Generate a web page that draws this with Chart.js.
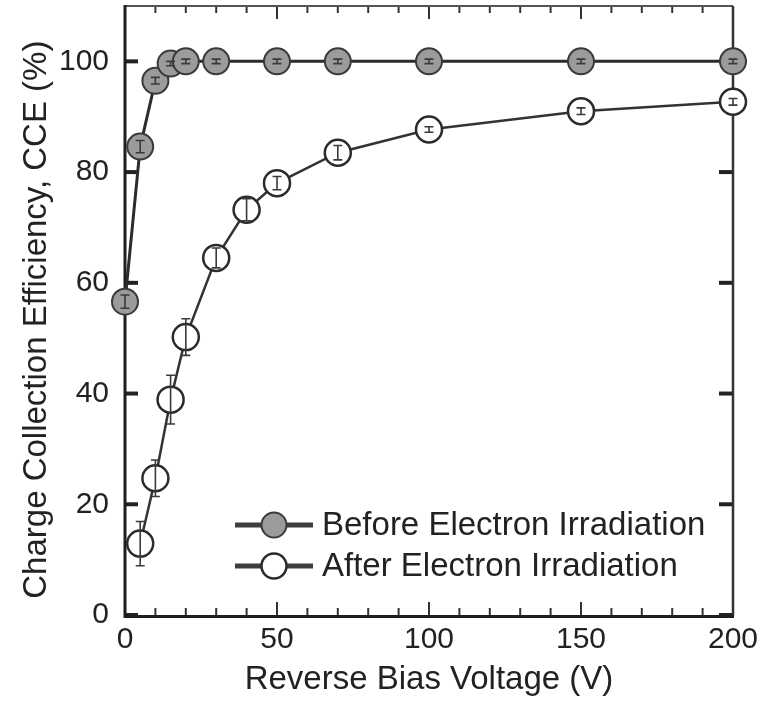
<!DOCTYPE html>
<html><head><meta charset="utf-8">
<script src="https://cdn.jsdelivr.net/npm/chart.js@4/dist/chart.umd.min.js"></script>
<style>html,body{margin:0;padding:0;background:#fff;} #wrap{width:771px;height:701px;position:relative;}</style>
</head><body><div id="wrap"><canvas id="c" width="771" height="701"></canvas></div>
<script>
const voltageBefore = [0, 5, 10, 15, 20, 30, 50, 70, 100, 150, 200];
const cceBefore = [56.6, 84.6, 96.5, 99.6, 100, 100, 100, 100, 100, 100, 100];
const errBefore = [1.2, 1.1, 0.6, 0.4, 0.4, 0.4, 0.4, 0.4, 0.4, 0.4, 0.4];
const voltageAfter = [5, 10, 15, 20, 30, 40, 50, 70, 100, 150, 200];
const cceAfter = [12.9, 24.7, 38.9, 50.2, 64.5, 73.2, 78.0, 83.5, 87.7, 91.0, 92.7];
const errAfter = [4.0, 3.3, 4.4, 3.3, 1.8, 2.0, 1.2, 1.3, 0.5, 0.6, 0.6];
const xTicks = [0, 50, 100, 150, 200];
const xMinorTicks = [10, 20, 30, 40, 60, 70, 80, 90, 110, 120, 130, 140, 160, 170, 180, 190];
const yTicks = [0, 20, 40, 60, 80, 100];
const seriesNames = ['Before Electron Irradiation', 'After Electron Irradiation'];
const xTitle = 'Reverse Bias Voltage (V)';
const yTitle = 'Charge Collection Efficiency, CCE (%)';

const FONT = "'Liberation Sans', Arial, Helvetica, sans-serif";
const TEXT = '#222';
const seriesStyle = [
  {line: '#2b2b2b', lw: 3, fill: '#9b9b9b', edge: '#3a3a3a', ew: 2},
  {line: '#333333', lw: 2.5, fill: '#ffffff', edge: '#2b2b2b', ew: 2.5}
];
const errs = [errBefore, errAfter];

const framePlugin = {
  id: 'frame',
  beforeDatasetsDraw(chart) {
    const {ctx, chartArea: a, scales: {x, y}} = chart;
    ctx.save();
    ctx.lineCap = 'butt';
    ctx.strokeStyle = '#222';
    ctx.lineWidth = 4;
    yTicks.forEach(v => {
      const py = y.getPixelForValue(v);
      ctx.beginPath(); ctx.moveTo(a.left, py); ctx.lineTo(a.left + 13, py); ctx.stroke();
      ctx.beginPath(); ctx.moveTo(a.right, py); ctx.lineTo(a.right - 14, py); ctx.stroke();
    });
    ctx.lineWidth = 2;
    ctx.strokeStyle = '#333';
    xTicks.forEach(v => {
      const px = x.getPixelForValue(v);
      ctx.beginPath(); ctx.moveTo(px, a.bottom); ctx.lineTo(px, a.bottom - 13); ctx.stroke();
      ctx.beginPath(); ctx.moveTo(px, a.top); ctx.lineTo(px, a.top + 13); ctx.stroke();
    });
    xMinorTicks.forEach(v => {
      const px = x.getPixelForValue(v);
      ctx.beginPath(); ctx.moveTo(px, a.bottom); ctx.lineTo(px, a.bottom - 7); ctx.stroke();
      ctx.beginPath(); ctx.moveTo(px, a.top); ctx.lineTo(px, a.top + 7); ctx.stroke();
    });
    ctx.strokeStyle = '#555'; ctx.lineWidth = 2;
    ctx.beginPath(); ctx.moveTo(a.left, a.top); ctx.lineTo(a.right, a.top); ctx.stroke();
    ctx.strokeStyle = '#333'; ctx.lineWidth = 2.5;
    ctx.beginPath(); ctx.moveTo(a.right, a.top); ctx.lineTo(a.right, a.bottom); ctx.stroke();
    ctx.strokeStyle = '#1e1e1e'; ctx.lineWidth = 3;
    ctx.beginPath(); ctx.moveTo(a.left, a.top - 1); ctx.lineTo(a.left, a.bottom + 1.5); ctx.lineTo(a.right + 1, a.bottom + 1.5); ctx.stroke();
    ctx.restore();
  },
  afterDatasetsDraw(chart) {
    const {ctx, scales: {x, y}} = chart;
    ctx.save();
    ctx.strokeStyle = '#3a3a3a';
    ctx.lineWidth = 1.6;
    chart.data.datasets.forEach((ds, i) => {
      ds.data.forEach((p, j) => {
        const e = errs[i][j];
        const px = x.getPixelForValue(p.x);
        const y1 = y.getPixelForValue(p.y + e);
        const y2 = y.getPixelForValue(p.y - e);
        const cw = 4.5;
        ctx.beginPath();
        ctx.moveTo(px, y1); ctx.lineTo(px, y2);
        ctx.moveTo(px - cw, y1); ctx.lineTo(px + cw, y1);
        ctx.moveTo(px - cw, y2); ctx.lineTo(px + cw, y2);
        ctx.stroke();
      });
    });
    ctx.restore();
  },
  afterDraw(chart) {
    const {ctx} = chart;
    ctx.save();
    const rows = [525, 566];
    seriesNames.forEach((name, i) => {
      const s = seriesStyle[i];
      const cy = rows[i];
      ctx.strokeStyle = '#3d3d3d';
      ctx.lineWidth = 5;
      ctx.beginPath(); ctx.moveTo(235, cy); ctx.lineTo(313, cy); ctx.stroke();
      ctx.beginPath(); ctx.arc(274, cy, 12.5, 0, Math.PI * 2);
      ctx.fillStyle = s.fill; ctx.fill();
      ctx.lineWidth = s.ew; ctx.strokeStyle = s.edge; ctx.stroke();
      ctx.fillStyle = TEXT;
      ctx.font = '33px ' + FONT;
      ctx.textBaseline = 'middle';
      ctx.textAlign = 'left';
      ctx.fillText(name, 322, cy + 1);
    });
    ctx.restore();
  }
};

const datasets = [
  {
    label: seriesNames[0],
    data: voltageBefore.map((v, i) => ({x: v, y: cceBefore[i]})),
    borderColor: seriesStyle[0].line, borderWidth: seriesStyle[0].lw,
    pointRadius: 13, pointBackgroundColor: seriesStyle[0].fill,
    pointBorderColor: seriesStyle[0].edge, pointBorderWidth: seriesStyle[0].ew,
    showLine: true, tension: 0, clip: false, order: 1
  },
  {
    label: seriesNames[1],
    data: voltageAfter.map((v, i) => ({x: v, y: cceAfter[i]})),
    borderColor: seriesStyle[1].line, borderWidth: seriesStyle[1].lw,
    pointRadius: 13, pointBackgroundColor: seriesStyle[1].fill,
    pointBorderColor: seriesStyle[1].edge, pointBorderWidth: seriesStyle[1].ew,
    showLine: true, tension: 0, clip: false, order: 2
  }
];

new Chart(document.getElementById('c'), {
  type: 'scatter',
  data: {datasets},
  plugins: [framePlugin],
  options: {
    responsive: false,
    animation: false,
    devicePixelRatio: 1,
    layout: {autoPadding: false, padding: {top: 6, right: 38, left: 0, bottom: 0}},
    plugins: {legend: {display: false}, tooltip: {enabled: false}},
    scales: {
      x: {
        type: 'linear', min: 0, max: 200,
        afterBuildTicks: s => { s.ticks = xTicks.map(v => ({value: v})); },
        afterFit: s => { s.height = 86; s.paddingLeft = 0; s.paddingRight = 0; s.paddingTop = 0; s.paddingBottom = 0; },
        grid: {display: false, drawTicks: false},
        border: {display: false},
        ticks: {color: TEXT, font: {family: FONT, size: 30}, padding: 7, maxRotation: 0, autoSkip: false},
        title: {display: true, text: xTitle, color: TEXT, font: {family: FONT, size: 33}, padding: {top: 0, bottom: 1}}
      },
      y: {
        type: 'linear', min: 0, max: 110,
        afterBuildTicks: s => { s.ticks = yTicks.map(v => ({value: v})); },
        afterFit: s => { s.width = 125; s.paddingTop = 0; s.paddingBottom = 0; s.paddingLeft = 0; s.paddingRight = 0; },
        grid: {display: false, drawTicks: false},
        border: {display: false},
        ticks: {color: TEXT, font: {family: FONT, size: 30}, padding: 16, autoSkip: false},
        title: {display: true, text: yTitle + '  ', color: TEXT, font: {family: FONT, size: 33}, padding: {top: 17, bottom: 0}}
      }
    }
  }
});
</script></body></html>
